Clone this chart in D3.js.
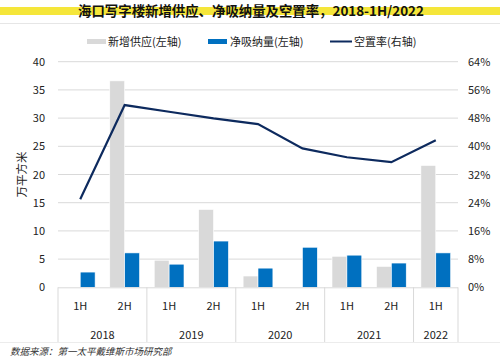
<!DOCTYPE html>
<html><head><meta charset="utf-8">
<script src="https://cdn.jsdelivr.net/npm/d3@7"></script>
<style>body{margin:0;background:#fff;} svg{display:block;font-family:"Noto Sans CJK SC","Noto Sans",sans-serif;}</style>
</head><body><svg id="c" width="500" height="357"></svg>
<script>
const years = ["2018","2019","2020","2021","2022"];
const halves = ["1H","2H","1H","2H","1H","2H","1H","2H","1H"];
const periodYears = ["2018","2018","2019","2019","2020","2020","2021","2021","2022"];
const supply = [0, 36.6, 4.8, 13.8, 2.0, 0, 5.5, 3.7, 21.6];
const absorption = [2.7, 6.1, 4.1, 8.2, 3.4, 7.1, 5.7, 4.3, 6.1];
const vacancy = [25.0, 51.7, 49.8, 47.9, 46.3, 39.4, 36.9, 35.5, 41.7];
const leftTicks = [0,5,10,15,20,25,30,35,40];
const rightTicks = [0,8,16,24,32,40,48,56,64];
const seriesNames = ["新增供应(左轴)","净吸纳量(左轴)","空置率(右轴)"];
const colors = {supply:"#d9d9d9", absorption:"#0070c0", line:"#0d2a5e"};

const svg = d3.select("#c");
const L = 58, R = 458, T = 61.7, B = 287.3;
const idx = d3.range(halves.length);
const x = d3.scaleBand().domain(idx).range([L, R]).paddingInner(0.33).paddingOuter(0.165);
const xBand = d3.scaleBand().domain(idx).range([L, R]);
const sub = d3.scaleBand().domain(["s","a"]).range([0, x.bandwidth()]);
const yL = d3.scaleLinear().domain([0,40]).range([B, T]);
const yR = d3.scaleLinear().domain([0,64]).range([B, T]);

// title highlight
svg.append("rect").attr("x",0).attr("y",7).attr("width",500).attr("height",8).attr("fill","#f5e63a");
svg.append("text").attr("x",251).attr("y",15.5).attr("text-anchor","middle")
  .attr("font-size",13.4).attr("font-weight","bold").attr("fill","#111")
  .text("海口写字楼新增供应、净吸纳量及空置率，2018-1H/2022");
svg.append("line").attr("x1",0).attr("x2",500).attr("y1",23.5).attr("y2",23.5).attr("stroke","#e6e6e6").attr("stroke-width",1);

// legend
const lg = svg.append("g").attr("font-size",11).attr("fill","#222");
lg.append("rect").attr("x",87).attr("y",39).attr("width",19).attr("height",5).attr("fill",colors.supply);
lg.append("text").attr("x",108).attr("y",46).text(seriesNames[0]);
lg.append("rect").attr("x",208).attr("y",39).attr("width",19).attr("height",5).attr("fill",colors.absorption);
lg.append("text").attr("x",230).attr("y",46).text(seriesNames[1]);
lg.append("line").attr("x1",330).attr("x2",352).attr("y1",41.5).attr("y2",41.5).attr("stroke",colors.line).attr("stroke-width",2);
lg.append("text").attr("x",354).attr("y",46).text(seriesNames[2]);

// gridlines
svg.append("g").selectAll("line").data(leftTicks.filter(d=>d>0)).join("line")
  .attr("x1",L).attr("x2",R).attr("y1",d=>yL(d)).attr("y2",d=>yL(d))
  .attr("stroke","#d9d9d9").attr("stroke-width",1);

// left axis
const axL = svg.append("g").attr("transform",`translate(${L},0)`)
  .call(d3.axisLeft(yL).tickValues(leftTicks).tickSize(0).tickPadding(13));
axL.select(".domain").remove();
axL.selectAll("text").attr("font-size",11).attr("fill","#222").attr("font-family","'Noto Sans CJK SC','Noto Sans',sans-serif");
// right axis
const axR = svg.append("g").attr("transform",`translate(${R},0)`)
  .call(d3.axisRight(yR).tickValues(rightTicks).tickSize(0).tickFormat(d=>d+"%").tickPadding(10));
axR.select(".domain").remove();
axR.selectAll("text").attr("font-size",11).attr("fill","#222").attr("font-family","'Noto Sans CJK SC','Noto Sans',sans-serif");

svg.append("text").attr("transform",`translate(26,${(T+B)/2}) rotate(-90)`).attr("text-anchor","middle")
  .attr("font-size",11.5).attr("fill","#222").text("万平方米");

// bars
svg.append("g").selectAll("rect").data(idx).join("rect")
  .attr("x",i=>x(i)+sub("s")).attr("width",sub.bandwidth())
  .attr("y",i=>yL(supply[i])).attr("height",i=>B-yL(supply[i]))
  .attr("fill",colors.supply).attr("stroke","#fff").attr("stroke-width",0.6);
svg.append("g").selectAll("rect").data(idx).join("rect")
  .attr("x",i=>x(i)+sub("a")).attr("width",sub.bandwidth())
  .attr("y",i=>yL(absorption[i])).attr("height",i=>B-yL(absorption[i]))
  .attr("fill",colors.absorption).attr("stroke","#fff").attr("stroke-width",0.6);

// baseline & category axis
svg.append("line").attr("x1",L).attr("x2",R).attr("y1",B+0.5).attr("y2",B+0.5).attr("stroke","#d9d9d9");
const yearStart = years.map(y=>periodYears.indexOf(y));
const sepIdx = yearStart.concat([halves.length]);
svg.append("g").selectAll("line").data(sepIdx).join("line")
  .attr("x1",i=>i<halves.length?xBand(i):R).attr("x2",i=>i<halves.length?xBand(i):R)
  .attr("y1",B).attr("y2",342).attr("stroke","#d9d9d9");
svg.append("g").selectAll("text").data(idx).join("text")
  .attr("x",i=>xBand(i)+xBand.bandwidth()/2).attr("y",310).attr("text-anchor","middle")
  .attr("font-size",11).attr("fill","#222").text(i=>halves[i]);
svg.append("g").selectAll("text").data(years).join("text")
  .attr("x",y=>{const s=periodYears.indexOf(y), e=periodYears.lastIndexOf(y); return (xBand(s)+xBand(e)+xBand.bandwidth())/2;})
  .attr("y",339).attr("text-anchor","middle").attr("font-size",11).attr("fill","#222").text(y=>y);
svg.append("line").attr("x1",0).attr("x2",500).attr("y1",342.5).attr("y2",342.5).attr("stroke","#ececec");

// line
const line = d3.line().x(i=>xBand(i)+xBand.bandwidth()/2).y(i=>yR(vacancy[i]));
svg.append("path").datum(idx).attr("d",line).attr("fill","none").attr("stroke",colors.line).attr("stroke-width",2.2);

svg.append("text").attr("x",10).attr("y",355).attr("font-size",9.5).attr("font-style","italic").attr("fill","#333")
  .text("数据来源：第一太平戴维斯市场研究部");
</script></body></html>
